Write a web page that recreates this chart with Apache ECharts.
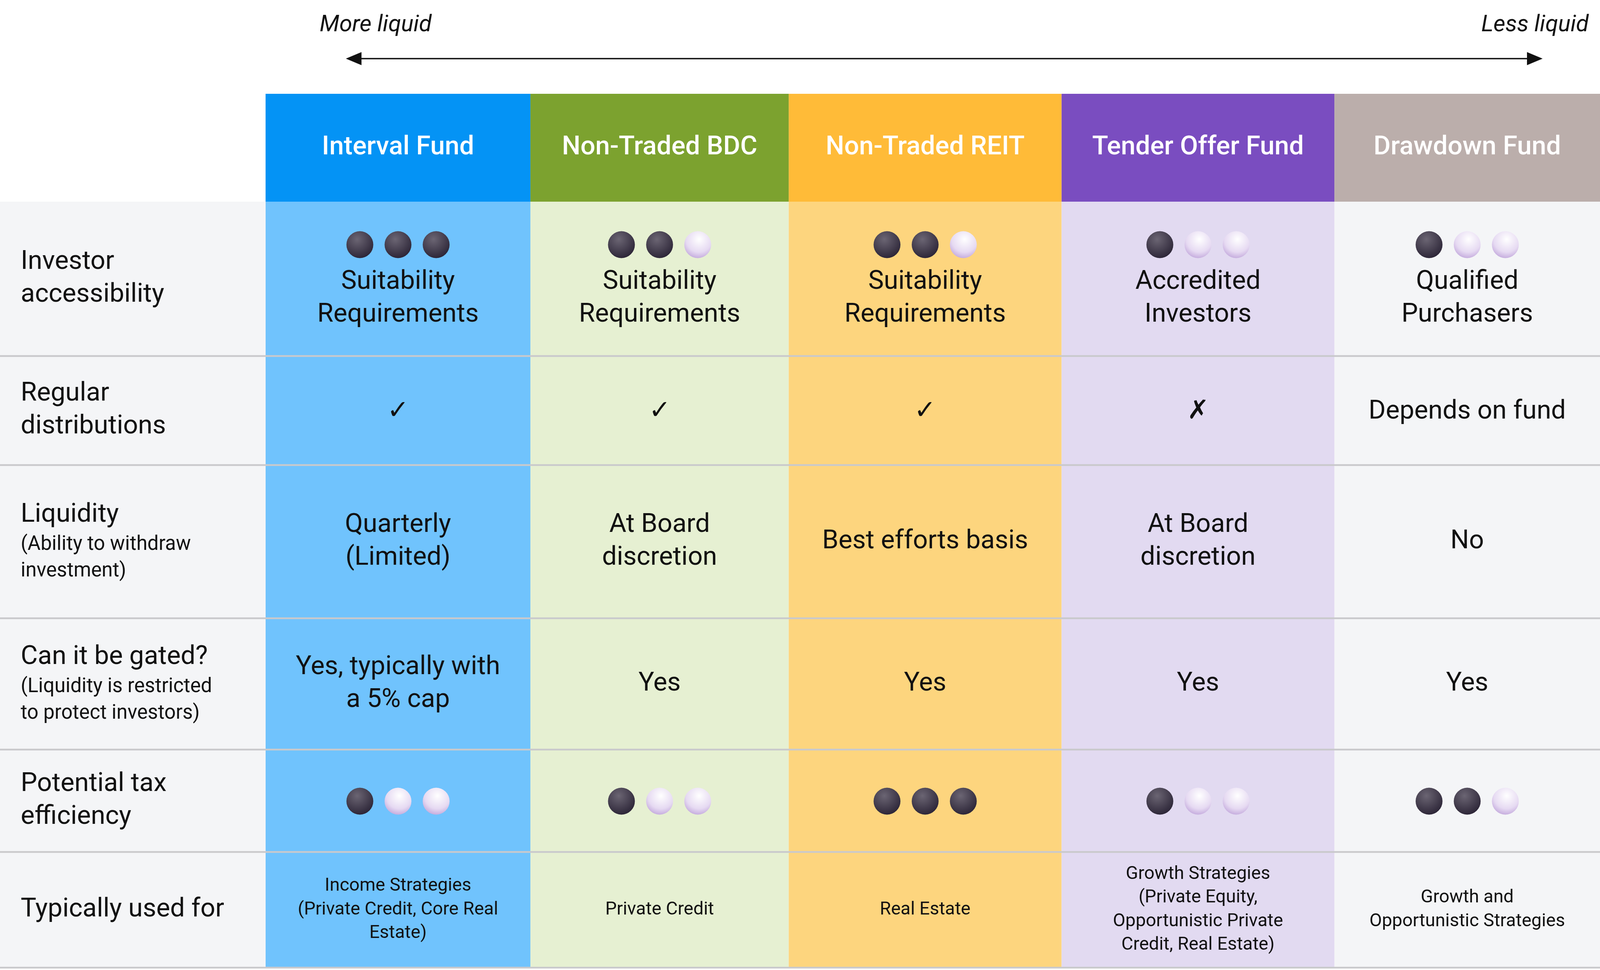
<!DOCTYPE html>
<html>
<head>
<meta charset="utf-8">
<script src="https://cdn.jsdelivr.net/npm/echarts@6/dist/echarts.min.js"></script>
<style>html,body{margin:0;padding:0;background:#fff;overflow:hidden}#main{width:100vw;height:100vh}</style>
</head>
<body>
<div id="main"></div>
<script>
var funds = ['Interval Fund', 'Non-Traded BDC', 'Non-Traded REIT', 'Tender Offer Fund', 'Drawdown Fund']
var rowLabels = ['Investor\naccessibility', 'Regular\ndistributions', 'Liquidity', 'Can it be gated?', 'Potential tax\nefficiency', 'Typically used for']
var rowNotes = ['', '', '(Ability to withdraw\ninvestment)', '(Liquidity is restricted\nto protect investors)', '', '']
var accessScore = [3, 2, 2, 1, 1]
var accessText = ['Suitability\nRequirements', 'Suitability\nRequirements', 'Suitability\nRequirements', 'Accredited\nInvestors', 'Qualified\nPurchasers']
var distributions = ['✓', '✓', '✓', '✗', 'Depends on fund']
var liquidity = ['Quarterly\n(Limited)', 'At Board\ndiscretion', 'Best efforts basis', 'At Board\ndiscretion', 'No']
var gated = ['Yes, typically with\na 5% cap', 'Yes', 'Yes', 'Yes', 'Yes']
var taxScore = [1, 1, 3, 1, 2]
var usedFor = ['Income Strategies\n(Private Credit, Core Real\nEstate)', 'Private Credit', 'Real Estate', 'Growth Strategies\n(Private Equity,\nOpportunistic Private\nCredit, Real Estate)', 'Growth and\nOpportunistic Strategies']

// layout (design units, 4404 x 2482)
var colEdges = [0, 731, 1460, 2171, 2922, 3673, 4404]
var rowEdges = [240, 516, 911, 1190, 1582, 1918, 2180, 2476]
var headColors = ['#0493f5', '#7ca22f', '#ffbb38', '#7a4dc0', '#bbaeab']
var bodyColors = ['#70c3fd', '#e6f0d2', '#fdd57e', '#e2daf1', '#f4f5f7']
var FONT = 'Roboto'

var dom = document.getElementById('main')
var myChart = echarts.init(dom)
var S = Math.min(myChart.getWidth() / 4404, myChart.getHeight() / 2482)

var cells = []
var texts = []
var dots = []
for (var c = 0; c < funds.length; c++) {
  var x0 = colEdges[c + 1], x1 = colEdges[c + 2], cx = (x0 + x1) / 2
  cells.push({ value: [x0, rowEdges[0], x1, rowEdges[1]], color: headColors[c] })
  cells.push({ value: [x0, rowEdges[1], x1, rowEdges[7]], color: bodyColors[c] })
  texts.push({ value: [cx, (rowEdges[0] + rowEdges[1]) / 2], text: funds[c], size: 72, lh: 90, color: '#fff', weight: 500 })
  texts.push({ value: [cx, 764], text: accessText[c], size: 72, lh: 90, color: '#111', weight: 400 })
  texts.push({ value: [cx, (rowEdges[2] + rowEdges[3]) / 2 + 4], text: distributions[c], size: 72, lh: 90, color: '#111', weight: 400 })
  texts.push({ value: [cx, (rowEdges[3] + rowEdges[4]) / 2], text: liquidity[c], size: 72, lh: 90, color: '#111', weight: 400 })
  texts.push({ value: [cx, (rowEdges[4] + rowEdges[5]) / 2], text: gated[c], size: 72, lh: 90, color: '#111', weight: 400 })
  texts.push({ value: [cx, (rowEdges[6] + rowEdges[7]) / 2], text: usedFor[c], size: 50, lh: 65, color: '#111', weight: 400 })
  for (var k = 0; k < 3; k++) {
    dots.push({ value: [cx + (k - 1) * 105, 626], dark: k < accessScore[c] })
    dots.push({ value: [cx + (k - 1) * 105, 2050], dark: k < taxScore[c] })
  }
}
cells.push({ value: [0, rowEdges[1], colEdges[1], rowEdges[7]], color: '#f4f5f7' })
texts.push({ value: [1034, 65], text: 'More liquid', size: 64, lh: 80, color: '#111', weight: 400, style: 'italic' })
texts.push({ value: [4225, 65], text: 'Less liquid', size: 64, lh: 80, color: '#111', weight: 400, style: 'italic' })
var labels = []
for (var r = 0; r < rowLabels.length; r++) {
  labels.push({ value: [57, (rowEdges[r + 1] + rowEdges[r + 2]) / 2], label: rowLabels[r], note: rowNotes[r] })
}

var darkFill = new echarts.graphic.RadialGradient(0.4, 0.3, 0.75, [
  { offset: 0, color: '#6b6573' }, { offset: 1, color: '#2a2335' }])
var lightFill = new echarts.graphic.RadialGradient(0.55, 0.3, 0.8, [
  { offset: 0, color: '#ffffff' }, { offset: 0.6, color: '#e6daf2' }, { offset: 1, color: '#b99bd6' }])

option = {
  animation: false,
  backgroundColor: '#fff',
  grid: { left: 0, right: 0, top: 0, bottom: 0 },
  xAxis: { type: 'value', min: 0, max: 4404, show: false },
  yAxis: { type: 'value', min: 0, max: 2482, inverse: true, show: false },
  series: [
    {
      type: 'custom',
      data: cells,
      renderItem: function (params, api) {
        var p0 = api.coord([api.value(0), api.value(1)])
        var p1 = api.coord([api.value(2), api.value(3)])
        return { type: 'rect', shape: { x: p0[0], y: p0[1], width: p1[0] - p0[0], height: p1[1] - p0[1] }, style: { fill: cells[params.dataIndex].color } }
      }
    },
    {
      type: 'custom',
      data: rowEdges.slice(2),
      renderItem: function (params, api) {
        var a = api.coord([0, api.value(0)])
        var b = api.coord([4404, api.value(0)])
        return { type: 'line', shape: { x1: a[0], y1: a[1], x2: b[0], y2: b[1] }, style: { stroke: '#c9c9cc', lineWidth: 5 * S } }
      }
    },
    {
      // liquidity arrow
      type: 'custom',
      data: [[952, 4246, 150]],
      renderItem: function (params, api) {
        var a = api.coord([api.value(0), api.value(2)])
        var b = api.coord([api.value(1), api.value(2)])
        var h = 43 * S, w = 18 * S
        return {
          type: 'group', children: [
            { type: 'line', shape: { x1: a[0] + h / 2, y1: a[1], x2: b[0] - h / 2, y2: b[1] }, style: { stroke: '#111', lineWidth: 4 * S } },
            { type: 'polygon', shape: { points: [[a[0], a[1]], [a[0] + h, a[1] - w], [a[0] + h, a[1] + w]] }, style: { fill: '#111' } },
            { type: 'polygon', shape: { points: [[b[0], b[1]], [b[0] - h, b[1] - w], [b[0] - h, b[1] + w]] }, style: { fill: '#111' } }
          ]
        }
      }
    },
    {
      type: 'custom',
      data: texts,
      renderItem: function (params, api) {
        var d = texts[params.dataIndex]
        var p = api.coord([api.value(0), api.value(1)])
        return { type: 'text', x: p[0], y: p[1], style: { text: d.text, align: 'center', verticalAlign: 'middle', fill: d.color, fontSize: d.size * S, lineHeight: d.lh * S, fontWeight: d.weight, fontStyle: d.style || 'normal', fontFamily: FONT } }
      }
    },
    {
      type: 'custom',
      data: labels,
      renderItem: function (params, api) {
        var d = labels[params.dataIndex]
        var p = api.coord([api.value(0), api.value(1)])
        var t = '{m|' + d.label.split('\n').join('}\n{m|') + '}'
        if (d.note) t += '\n' + d.note.split('\n').map(function (s) { return '{n|' + s + '}' }).join('\n')
        return {
          type: 'text', x: p[0], y: p[1],
          style: {
            text: t, align: 'left', verticalAlign: 'middle', fill: '#111', fontFamily: FONT,
            rich: { m: { fontSize: 72 * S, lineHeight: 90 * S, fontFamily: FONT, fill: '#111' }, n: { fontSize: 55 * S, lineHeight: 73 * S, fontFamily: FONT, fill: '#111' } }
          }
        }
      }
    },
    {
      type: 'custom',
      data: dots,
      renderItem: function (params, api) {
        var p = api.coord([api.value(0), api.value(1)])
        return { type: 'circle', shape: { cx: p[0], cy: p[1], r: 37 * S }, style: { fill: dots[params.dataIndex].dark ? darkFill : lightFill } }
      }
    }
  ]
}
if (option && typeof option === 'object') {
  myChart.setOption(option, true)
}
</script>
</body>
</html>
